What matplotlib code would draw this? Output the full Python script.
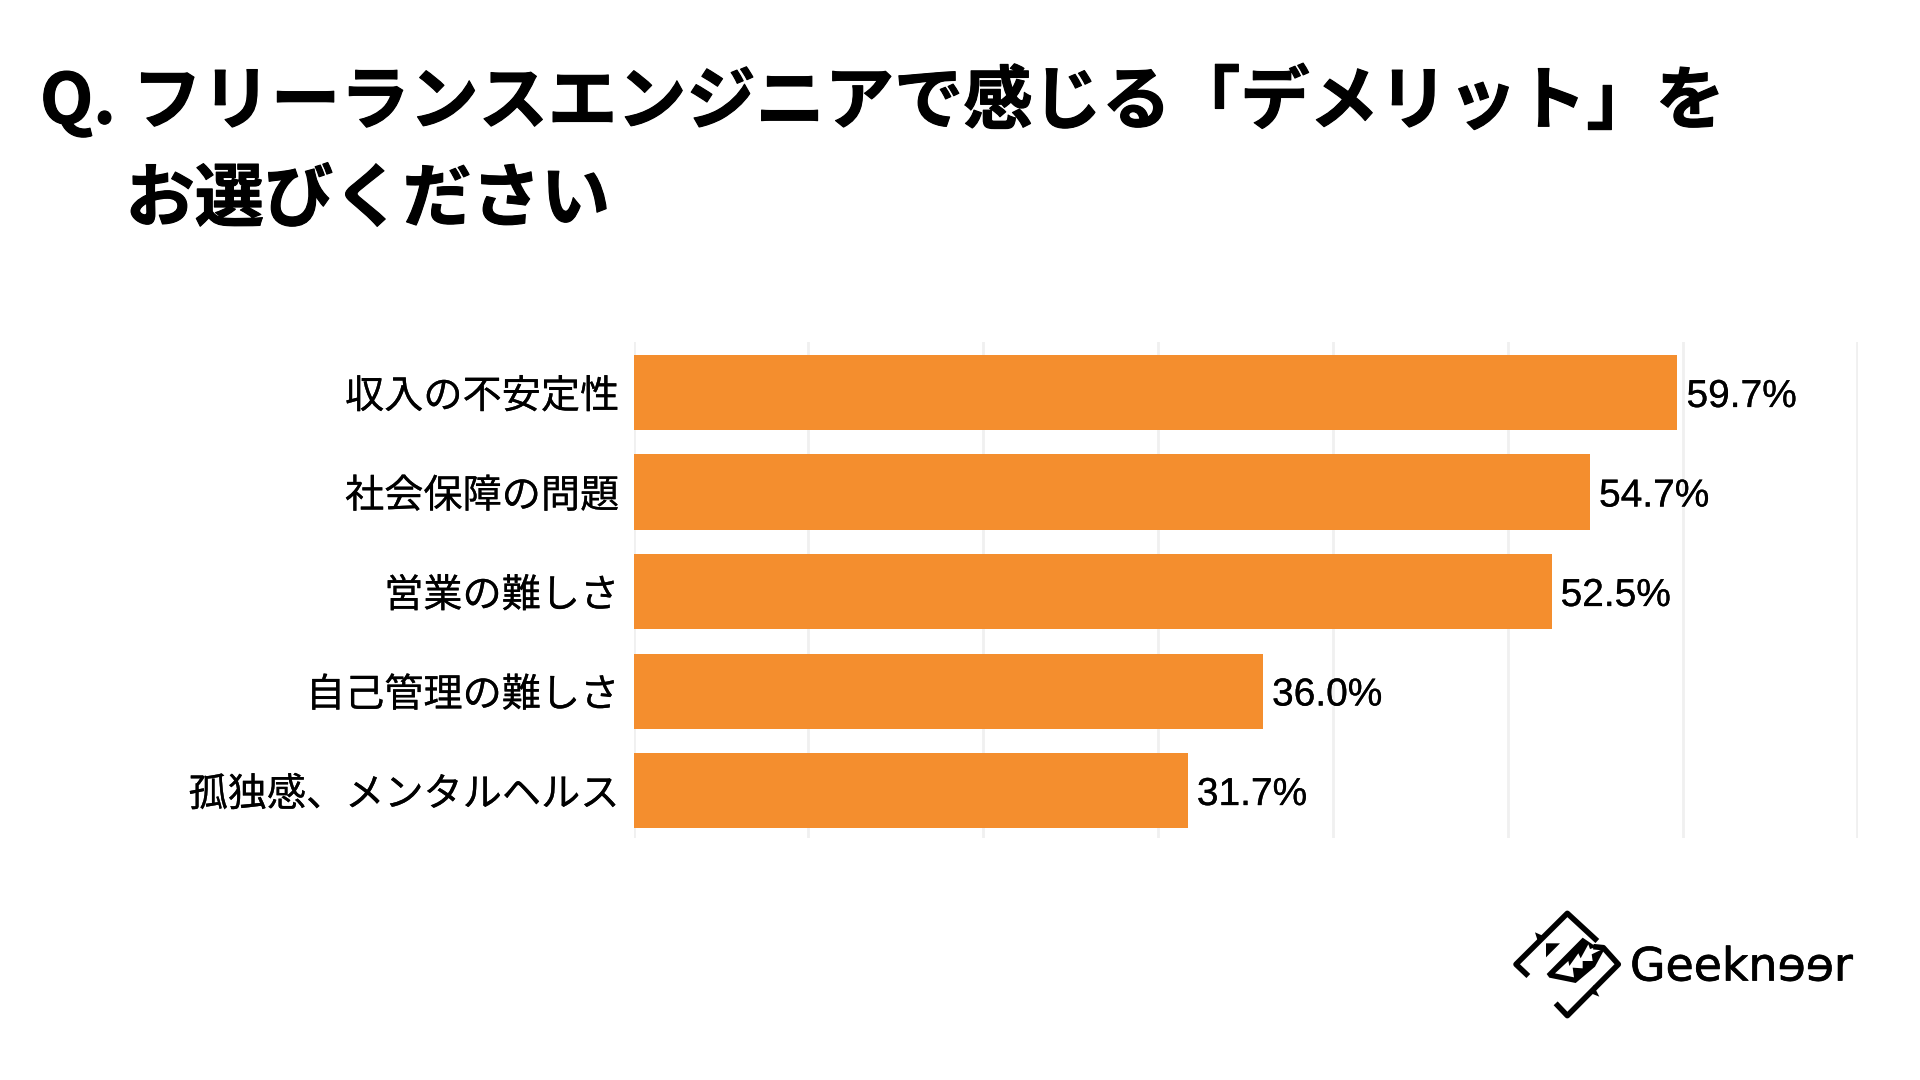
import matplotlib
matplotlib.use("Agg")
import matplotlib.pyplot as plt
import matplotlib.patheffects as pe
from matplotlib.patches import Polygon

plt.rcParams['font.family'] = ['Noto Sans CJK JP', 'DejaVu Sans']

categories = ["収入の不安定性", "社会保障の問題", "営業の難しさ", "自己管理の難しさ", "孤独感、メンタルヘルス"]
values = [59.7, 54.7, 52.5, 36.0, 31.7]
value_labels = ["59.7%", "54.7%", "52.5%", "36.0%", "31.7%"]

W, H = 1920, 1080
fig = plt.figure(figsize=(19.2, 10.8), dpi=100, facecolor="white")


def thick(w):
    # the reference text is a bit heavier than the installed weights
    return [pe.withStroke(linewidth=w, foreground="#000000")]


# plot area in pixels of the reference
left, right, top, bottom = 633.5, 1857.5, 342, 838
ax = fig.add_axes([left / W, 1 - bottom / H, (right - left) / W, (bottom - top) / H])
ax.barh(range(len(values)), values, height=0.754, color="#F48E2E", zorder=2)
ax.set_xlim(0, 70)
ax.set_ylim(4.477, -0.5075)
ax.set_xticks(range(0, 71, 10))
ax.set_xticklabels([])
ax.set_yticks(range(len(categories)))
ax.set_yticklabels(categories, fontsize=28.2, color="#000000", path_effects=thick(0.15))
ax.tick_params(axis="both", length=0, pad=10.5)
ax.grid(axis="x", color="#F0F0F0", linewidth=2, zorder=0)
ax.set_axisbelow(True)
for s in ax.spines.values():
    s.set_visible(False)

for i, v in enumerate(values):
    ax.text(v + 0.52, i + 0.045, value_labels[i], va="center", ha="left", fontsize=28,
            family="Liberation Sans", color="#000000", zorder=3, path_effects=thick(0.2))

# title
fig.text(40 / W, 1 - 103 / H, "Q.", fontsize=49.85, fontweight="bold", va="center", ha="left",
         color="#000000", path_effects=thick(0.8))
fig.text(132.5 / W, 1 - 103 / H, "フリーランスエンジニアで感じる「デメリット」を", fontsize=49.85,
         fontweight="bold", va="center", ha="left", color="#000000", path_effects=thick(0.8))
fig.text(125.5 / W, 1 - 200.5 / H, "お選びください", fontsize=49.85, fontweight="bold", va="center", ha="left",
         color="#000000", path_effects=thick(0.8))

logo = fig.add_axes([0, 0, 1, 1], facecolor="none")
logo.set_xlim(0, W)
logo.set_ylim(H, 0)
logo.axis("off")


def crop(points):
    return [(1510 + x / 3, 905 + y / 3) for x, y in points]


upper = crop([(55, 213), (18, 178), (172, 25), (262, 108)])
lower = crop([(137, 295), (172, 332), (325, 178), (280, 128), (250, 125)])
logo.plot(*zip(*upper), color="#000000", lw=4, solid_joinstyle="round", solid_capstyle="butt")
logo.plot(*zip(*lower), color="#000000", lw=4, solid_joinstyle="round", solid_capstyle="butt")
logo.add_patch(Polygon(crop([(75, 82), (100, 93), (84, 110)]), color="#000000", lw=0))
logo.add_patch(Polygon(crop([(268, 275), (243, 265), (250, 240)]), color="#000000", lw=0))
logo.add_patch(Polygon(crop([(108, 115), (150, 115), (108, 157)]), color="#000000", lw=0))
logo.add_patch(Polygon(crop([(218, 98), (258, 125), (285, 130), (255, 185), (197, 234), (118, 218),
                             (110, 207)]), color="#000000", lw=0))
logo.add_patch(Polygon(crop([(135, 205), (175, 168), (178, 183), (205, 145), (212, 160), (235, 118), (240, 132),
                             (262, 125), (272, 135), (245, 148), (248, 168), (218, 168), (218, 190), (188, 188),
                             (192, 217)]), color="#FFFFFF", lw=0))
fig.text(1630 / W, 1 - 968 / H, "Geekn\u0258\u0258r", fontsize=33, va="center", ha="left",
         family="DejaVu Sans", color="#000000", path_effects=thick(0.5))

fig.savefig("out.png", dpi=100)
